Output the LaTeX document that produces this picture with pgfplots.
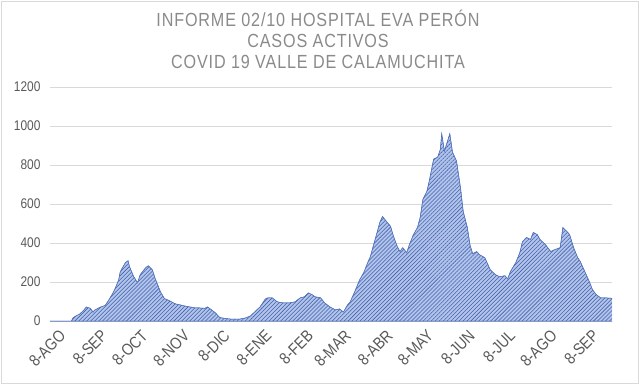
\documentclass[border=0pt]{standalone}
\usepackage{pgfplots}
\pgfplotsset{compat=1.18}
\usepackage{fontspec}
\setmainfont{Liberation Sans}
\newfontfamily\narrowfont[FakeStretch=0.85]{Liberation Sans}
\newfontfamily\titlefont[FakeStretch=0.85,LetterSpace=4.5]{Liberation Sans}
\usetikzlibrary{patterns.meta}
\definecolor{fillblue}{HTML}{B3C4EA}
\definecolor{hatchblue}{HTML}{3F60AD}
\definecolor{edgeblue}{HTML}{5575BD}
\definecolor{gridgray}{HTML}{D9D9D9}
\definecolor{titlegray}{HTML}{8A8A8A}
\definecolor{labelgray}{HTML}{595959}
\pgfplotstableread{
day val
0 0
16 0
17 15
19 25
22 35
25 55
27 72
30 65
32 45
33 55
37 70
41 80
43 100
46 134
48 160
51 210
52 247
53 263
56 299
58 309
59 280
62 230
65 196
67 237
71 273
73 283
76 263
78 220
82 150
85 115
89 103
93 88
97 82
100 77
104 72
108 67
111 67
115 65
117 72
120 57
123 41
126 18
130 13
134 10
141 10
145 15
149 26
152 46
156 72
160 113
162 119
165 119
167 108
169 98
173 93
178 93
182 98
186 119
189 124
192 144
195 134
197 124
201 119
204 93
208 72
212 57
215 62
218 46
221 82
223 98
227 160
230 211
233 247
236 299
238 330
240 381
243 454
245 505
247 536
250 510
253 485
255 438
258 381
260 356
262 376
265 350
267 392
270 443
273 479
275 531
277 623
280 665
282 726
285 830
288 840
290 881
291 960
293 871
297 960
299 866
302 820
305 680
307 560
310 480
312 390
314 345
317 356
319 340
323 325
327 263
331 237
334 227
338 232
340 216
342 253
346 299
349 350
351 407
354 428
357 418
359 454
362 443
364 418
368 392
372 356
375 366
379 376
381 479
384 459
386 443
389 376
392 325
394 304
396 273
399 227
401 196
403 160
406 134
409 119
412 119
418 116
}\cases
\begin{document}
\begin{tikzpicture}
\useasboundingbox (0,0) rectangle (639pt,384pt);
\draw[gridgray, line width=0.8pt] (1pt,1pt) rectangle (638pt,383pt);
\node[anchor=base, font=\titlefont\fontsize{19}{22}\selectfont, text=titlegray] at (318pt,357pt) {INFORME 02/10 HOSPITAL EVA PERÓN};
\node[anchor=base, font=\titlefont\fontsize{19}{22}\selectfont, text=titlegray] at (318pt,337pt) {CASOS ACTIVOS};
\node[anchor=base, font=\titlefont\fontsize{19}{22}\selectfont, text=titlegray] at (318pt,316pt) {COVID 19 VALLE DE CALAMUCHITA};
\begin{axis}[
  at={(50pt,63pt)}, anchor=south west,
  scale only axis, width=562pt, height=234pt,
  xmin=0, xmax=417.5, ymin=0, ymax=1200,
  ytick={0,200,...,1200},
  xtick={0,31,61,92,122,153,184,212,243,273,304,334,365,396},
  xticklabels={8-AGO,8-SEP,8-OCT,8-NOV,8-DIC,8-ENE,8-FEB,8-MAR,8-ABR,8-MAY,8-JUN,8-JUL,8-AGO,8-SEP},
  /pgf/number format/assume math mode=true,
  /pgf/number format/1000 sep={},
  yticklabel style={font=\narrowfont\fontsize{14}{16}\selectfont, text=labelgray, xshift=-6pt},
  xticklabel style={font=\narrowfont\fontsize{16.5}{18}\selectfont, text=labelgray, rotate=45, anchor=north east, xshift=4pt, yshift=-8pt},
  axis line style={draw=none},
  major tick length=0pt,
  ymajorgrids, grid style={gridgray, line width=0.8pt},
]
\addplot[draw=edgeblue, line width=0.5pt, fill=fillblue,
  postaction={pattern={Lines[angle=45,distance=2.8pt,line width=0.55pt]}, pattern color=hatchblue}]
  table[x=day, y=val] {\cases} \closedcycle;
\end{axis}
\end{tikzpicture}
\end{document}
